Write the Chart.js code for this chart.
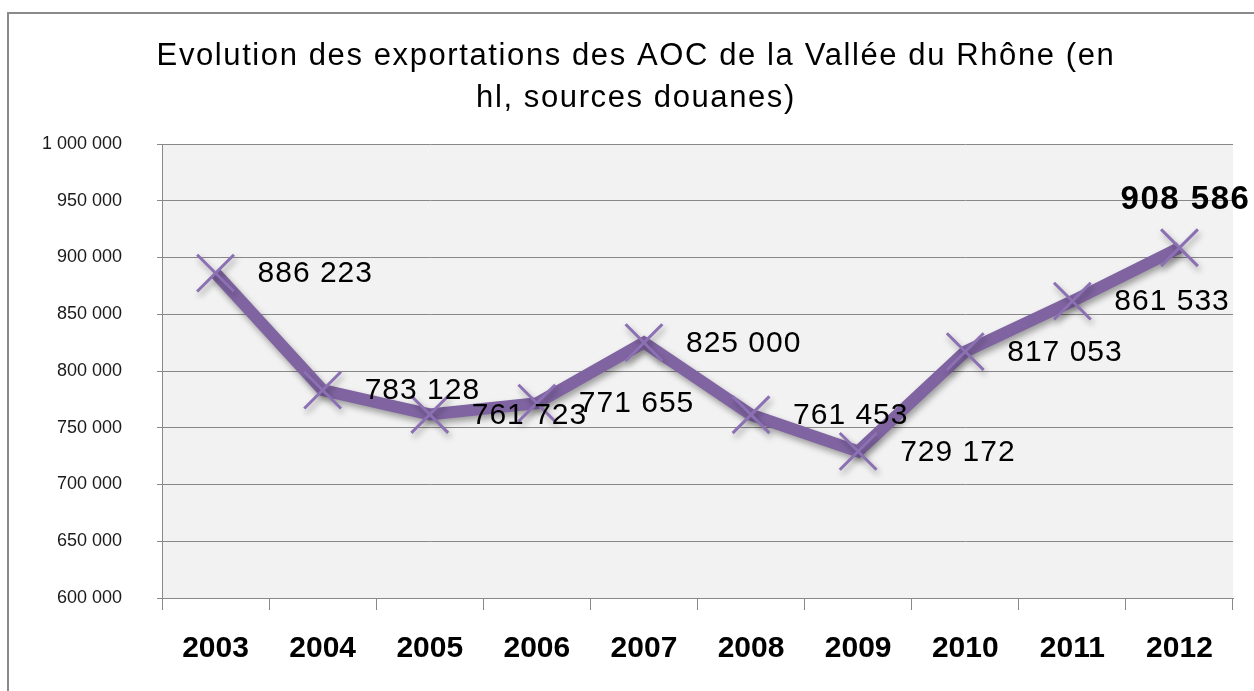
<!DOCTYPE html>
<html>
<head>
<meta charset="utf-8">
<script src="https://cdn.jsdelivr.net/npm/chart.js@4/dist/chart.umd.min.js"></script>
<style>
  html, body { margin: 0; padding: 0; background: #ffffff; overflow: hidden; }
  #wrap { position: relative; width: 1254px; height: 691px; }
  #frame { position: absolute; left: 7px; top: 12px; width: 1400px; height: 800px;
           border: 2px solid #8a8a8a; box-sizing: border-box; pointer-events: none; }
  canvas { position: absolute; left: 0; top: 0; }
</style>
</head>
<body>
<div id="wrap">
  <canvas id="c" width="1254" height="691"></canvas>
  <div id="frame"></div>
</div>
<script>
const titleLines = ['Evolution des exportations des AOC de la Vallée du Rhône (en', 'hl, sources douanes)'];
const years = ['2003', '2004', '2005', '2006', '2007', '2008', '2009', '2010', '2011', '2012'];
const exportsHl = [886223, 783128, 761723, 771655, 825000, 761453, 729172, 817053, 861533, 908586];
const yMin = 600000;
const yMax = 1000000;
const yStep = 50000;

const PURPLE = 'rgb(128,100,162)';
const GRID = '#888888';

function fmt(n) {
  return String(n).replace(/\B(?=(\d{3})+(?!\d))/g, ' ');
}

const bgPlugin = {
  id: 'plotBg',
  beforeDraw(chart) {
    const { ctx, chartArea: a } = chart;
    ctx.save();
    ctx.fillStyle = '#f2f2f2';
    ctx.fillRect(a.left, a.top, a.right - a.left, a.bottom - a.top);
    ctx.restore();
  }
};

const titlePlugin = {
  id: 'customTitle',
  afterDraw(chart) {
    const ctx = chart.ctx;
    ctx.save();
    ctx.fillStyle = '#000';
    ctx.font = '31px "Liberation Sans", Arial, sans-serif';
    ctx.letterSpacing = '1.6px';
    ctx.textAlign = 'center';
    ctx.textBaseline = 'middle';
    ctx.fillText(titleLines[0], 636, 56);
    ctx.fillText(titleLines[1], 636, 98);
    ctx.restore();
  }
};

const shadowPlugin = {
  id: 'lineShadow',
  beforeDatasetDraw(chart) {
    const ctx = chart.ctx;
    ctx.save();
    ctx.shadowColor = 'rgba(0,0,0,0.35)';
    ctx.shadowBlur = 6;
    ctx.shadowOffsetX = 2;
    ctx.shadowOffsetY = 4;
  },
  afterDatasetDraw(chart) {
    chart.ctx.restore();
  }
};

const labelPlugin = {
  id: 'valueLabels',
  afterDatasetsDraw(chart) {
    const ctx = chart.ctx;
    const meta = chart.getDatasetMeta(0);
    const data = chart.data.datasets[0].data;
    const last = data.length - 1;
    ctx.save();
    ctx.fillStyle = '#000';
    ctx.textBaseline = 'middle';
    meta.data.forEach((pt, i) => {
      const txt = fmt(data[i]);
      if (i === last) {
        ctx.font = 'bold 33px "Liberation Sans", Arial, sans-serif';
        ctx.letterSpacing = '1.5px';
        ctx.textAlign = 'center';
        ctx.fillText(txt, pt.x + 6, pt.y - 48);
      } else {
        ctx.font = '30px "Liberation Sans", Arial, sans-serif';
        ctx.letterSpacing = '1px';
        ctx.textAlign = 'left';
        ctx.fillText(txt, pt.x + 42, pt.y + 1);
      }
    });
    ctx.restore();
  }
};

new Chart(document.getElementById('c'), {
  type: 'line',
  data: {
    labels: years,
    datasets: [{
      data: exportsHl,
      borderColor: PURPLE,
      backgroundColor: PURPLE,
      borderWidth: 12,
      tension: 0,
      pointStyle: 'crossRot',
      pointRadius: 26,
      pointHoverRadius: 26,
      pointBorderWidth: 3,
      pointBorderColor: 'rgb(140,112,180)',
      fill: false,
      clip: false
    }]
  },
  options: {
    responsive: false,
    animation: false,
    events: [],
    layout: { autoPadding: false, padding: { top: 144, right: 21, bottom: 13, left: 0 } },
    plugins: {
      legend: { display: false },
      title: { display: false },
      tooltip: { enabled: false }
    },
    scales: {
      x: {
        type: 'category',
        offset: true,
        afterFit(s) { s.height = 80; s.paddingLeft = 0; s.paddingRight = 0; },
        grid: {
          offset: true,
          drawOnChartArea: false,
          drawTicks: true,
          tickLength: 12,
          color: GRID,
          lineWidth: 1
        },
        border: { display: true, color: GRID, width: 1 },
        ticks: {
          color: '#000',
          padding: 21,
          maxRotation: 0,
          font: { family: '"Liberation Sans", Arial, sans-serif', size: 30, weight: 'bold' }
        }
      },
      y: {
        min: yMin,
        max: yMax,
        afterFit(s) { s.width = 162; },
        grid: {
          color: GRID,
          lineWidth: 1,
          drawTicks: true,
          tickLength: 5
        },
        border: { display: true, color: GRID, width: 1 },
        ticks: {
          stepSize: yStep,
          color: '#1a1a1a',
          padding: 35,
          font: { family: '"Liberation Sans", Arial, sans-serif', size: 18 },
          callback: (v) => fmt(v)
        }
      }
    }
  },
  plugins: [bgPlugin, shadowPlugin, labelPlugin, titlePlugin]
});
</script>
</body>
</html>
